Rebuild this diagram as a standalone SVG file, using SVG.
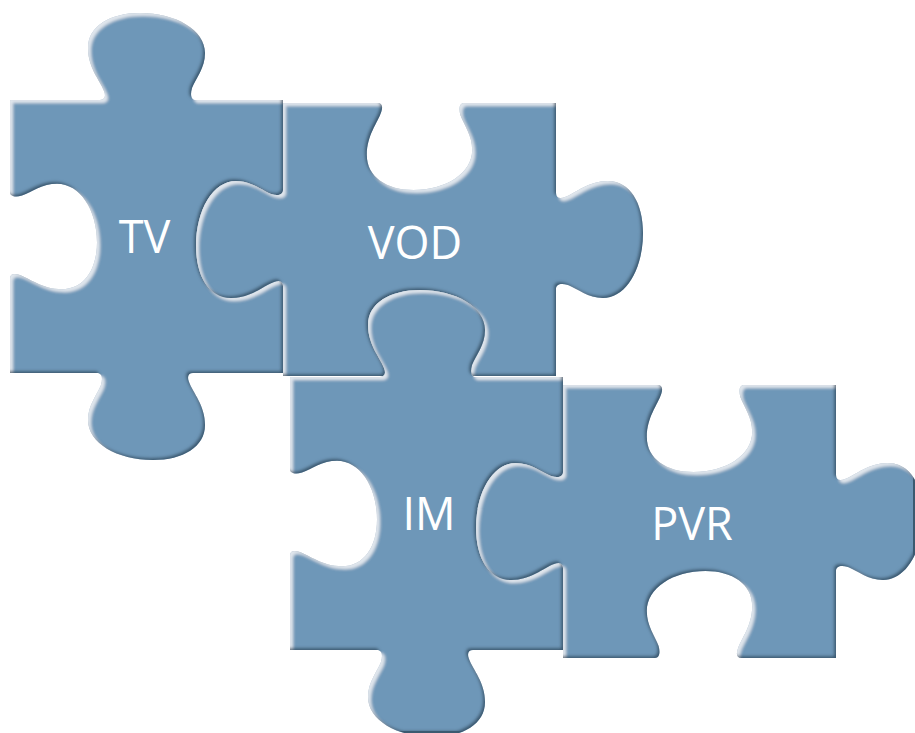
<svg xmlns="http://www.w3.org/2000/svg" width="915" height="733" viewBox="0 0 915 733">
<style>
.piece{fill:#6e97b8}
.lbl{fill:#ffffff;font-family:"Open Sans","Liberation Sans",sans-serif;font-size:45px;text-anchor:middle}
</style>
<defs>
<path id="pA" d="M0,0 L90,0 C95,0 96,-4 94,-9 C90,-20 78,-32 78,-52 C78,-74 100,-87 130,-87 C166,-87 195,-70 195,-47 C195,-32 186,-22 182,-12 C180,-5 181,0 186,0 L273,0 L273,273 L183,273 C178,273 177,277 179,282 C183,293 195,305 195,325 C195,347 173,360 143,360 C107,360 78,343 78,320 C78,305 87,295 91,285 C93,278 92,273 87,273 L0,273 L0,178.4 C0,173.8 4,173 9,174.8 C20,178.4 32,189.2 52,189.2 C74,189.2 87,169.4 87,142.4 C87,110 70,83.8 47,83.8 C32,83.8 22,92 12,95.6 C5,97.4 0,96.4 0,92 Z"/>
<path id="pB1" d="M0,0 L94.6,0 C99.2,0 100,4 98.2,9 C94.6,20 83.8,32 83.8,52 C83.8,74 103.6,87 130.6,87 C163,87 189.2,70 189.2,47 C189.2,32 181,22 177.4,12 C175.6,5 176.6,0 181,0 L273,0 L273,90 C273,95 277,96 282,94 C293,90 305,78 325,78 C347,78 360,100 360,130 C360,166 343,195 320,195 C305,195 295,186 285,182 C278,180 273,181 273,186 L273,273 L0,273 L0,183 C0,178 -4,177 -9,179 C-20,183 -32,195 -52,195 C-74,195 -87,173 -87,143 C-87,107 -70,78 -47,78 C-32,78 -22,87 -12,91 C-5,93 0,92 0,87 Z"/>
<path id="pB2" d="M0,0 L94.6,0 C99.2,0 100,4 98.2,9 C94.6,20 83.8,32 83.8,52 C83.8,74 103.6,87 130.6,87 C163,87 189.2,70 189.2,47 C189.2,32 181,22 177.4,12 C175.6,5 176.6,0 181,0 L273,0 L273,90 C273,95 277,96 282,94 C293,90 305,78 325,78 C347,78 360,100 360,130 C360,166 343,195 320,195 C305,195 295,186 285,182 C278,180 273,181 273,186 L273,273 L178.4,273 C173.8,273 173,269 174.8,264 C178.4,253 189.2,241 189.2,221 C189.2,199 169.4,186 142.4,186 C110,186 83.8,203 83.8,226 C83.8,241 92,251 95.6,261 C97.4,268 96.4,273 92,273 L0,273 L0,183 C0,178 -4,177 -9,179 C-20,183 -32,195 -52,195 C-74,195 -87,173 -87,143 C-87,107 -70,78 -47,78 C-32,78 -22,87 -12,91 C-5,93 0,92 0,87 Z"/>
<filter id="bevel" filterUnits="userSpaceOnUse" x="0" y="0" width="915" height="733">
<feGaussianBlur in="SourceAlpha" stdDeviation="1.4" result="blur"/>
<feOffset in="blur" dx="2.5" dy="2.5" result="offHi"/>
<feComposite in="SourceAlpha" in2="offHi" operator="out" result="hiMask"/>
<feFlood flood-color="#ffffff" flood-opacity="0.7"/>
<feComposite in2="hiMask" operator="in" result="hi"/>
<feOffset in="blur" dx="-2" dy="-2" result="offSh"/>
<feComposite in="SourceAlpha" in2="offSh" operator="out" result="shMask"/>
<feFlood flood-color="#2c475c" flood-opacity="0.85"/>
<feComposite in2="shMask" operator="in" result="sh"/>
<feMerge><feMergeNode in="SourceGraphic"/><feMergeNode in="hi"/><feMergeNode in="sh"/></feMerge>
</filter>
<mask id="mTV" maskUnits="userSpaceOnUse" x="0" y="0" width="915" height="733">
<rect width="915" height="733" fill="#fff"/>
<use href="#pB1" transform="translate(283,103)" fill="#000"/>
</mask>
<mask id="mVOD" maskUnits="userSpaceOnUse" x="0" y="0" width="915" height="733">
<rect width="915" height="733" fill="#fff"/>
<use href="#pA" transform="translate(290,377)" fill="#000"/>
</mask>
<mask id="mIM" maskUnits="userSpaceOnUse" x="0" y="0" width="915" height="733">
<rect width="915" height="733" fill="#fff"/>
<use href="#pB2" transform="translate(563,385)" fill="#000"/>
</mask>
</defs>
<g id="node-tv">
<g filter="url(#bevel)"><g mask="url(#mTV)"><use href="#pA" class="piece" transform="translate(10,100)"/></g></g>
<text class="lbl" x="144.5" y="253">TV</text>
</g>
<g id="node-vod">
<g filter="url(#bevel)"><g mask="url(#mVOD)"><use href="#pB1" class="piece" transform="translate(283,103)"/></g></g>
<text class="lbl" x="415" y="259">VOD</text>
</g>
<g id="node-im">
<g filter="url(#bevel)"><g mask="url(#mIM)"><use href="#pA" class="piece" transform="translate(290,377)"/></g></g>
<text class="lbl" x="429" y="530">IM</text>
</g>
<g id="node-pvr">
<g filter="url(#bevel)"><use href="#pB2" class="piece" transform="translate(563,385)"/></g>
<text class="lbl" x="692" y="540">PVR</text>
</g>
</svg>
